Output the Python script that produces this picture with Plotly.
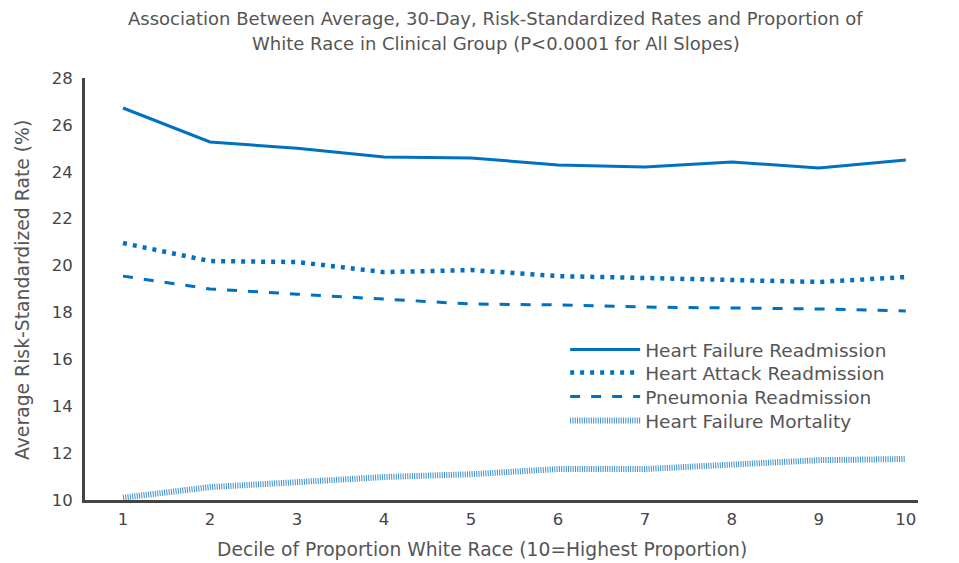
import plotly.graph_objects as go

deciles = [1, 2, 3, 4, 5, 6, 7, 8, 9, 10]
hf_readmission = [26.72, 25.27, 25.0, 24.63, 24.59, 24.29, 24.2, 24.42, 24.16, 24.5]
ha_readmission = [20.96, 20.19, 20.15, 19.72, 19.81, 19.55, 19.47, 19.38, 19.3, 19.51]
pn_readmission = [19.55, 19.0, 18.78, 18.57, 18.36, 18.32, 18.23, 18.19, 18.15, 18.06]
hf_mortality = [10.1, 10.55, 10.76, 10.98, 11.1, 11.32, 11.32, 11.53, 11.7, 11.75]
y_ticks = [10, 12, 14, 16, 18, 20, 22, 24, 26, 28]
series_names = ["Heart Failure Readmission", "Heart Attack Readmission",
                "Pneumonia Readmission", "Heart Failure Mortality"]
title_lines = ["Association Between Average, 30-Day, Risk-Standardized Rates and Proportion of",
               "White Race in Clinical Group (P<0.0001 for All Slopes)"]
x_title = "Decile of Proportion White Race (10=Highest Proportion)"
y_title = "Average Risk-Standardized Rate (%)"

blue = "#0070C0"
font = "DejaVu Sans"
grey = "#555555"

series_values = [hf_readmission, ha_readmission, pn_readmission, hf_mortality]
series_lines = [dict(color=blue, width=3),
                dict(color=blue, width=4.5, dash="4px,6px"),
                dict(color=blue, width=3, dash="10px,11px"),
                dict(color="#3A8FD0", width=6, dash="1px,1.3px")]
legend_ids = ["legend", "legend2", "legend3", "legend4"]
legend_tops = [0.4005, 0.346, 0.289, 0.232]

fig = go.Figure()
for name, vals, ln, lg in zip(series_names, series_values, series_lines, legend_ids):
    fig.add_trace(go.Scatter(x=deciles, y=vals, mode="lines", name=name,
                             line=ln, legend=lg))

for line, shift in zip(title_lines, [60, 35]):
    fig.add_annotation(text=line, xref="paper", yref="paper",
                       x=0.493, y=1.0, yshift=shift, xanchor="center", yanchor="middle",
                       showarrow=False, font=dict(size=18, color=grey, family=font))

fig.add_annotation(text=x_title, xref="paper", yref="paper", x=0.4766, y=0.0,
                   yshift=-49, xanchor="center", yanchor="middle", showarrow=False,
                   font=dict(size=18.7, color=grey, family=font))
fig.add_annotation(text=y_title, xref="paper", yref="paper", x=0.0, y=0.4976,
                   xshift=-63, xanchor="center", yanchor="middle", showarrow=False,
                   textangle=-90, font=dict(size=18.8, color=grey, family=font))

legend_layout = {}
for lg, top in zip(legend_ids, legend_tops):
    legend_layout[lg] = dict(x=0.5764, y=top, xanchor="left", yanchor="top",
                             bgcolor="rgba(0,0,0,0)",
                             font=dict(size=18.5, color=grey, family=font),
                             itemwidth=70)

fig.update_layout(
    width=959, height=563,
    margin=dict(l=77, r=49, t=70, b=71),
    paper_bgcolor="white", plot_bgcolor="white",
    font=dict(family=font, color=grey, size=16),
    xaxis=dict(range=[0.563, 10.14], tickvals=deciles, showgrid=False, zeroline=False,
               showline=True, linecolor="#444444", linewidth=3, ticks="",
               automargin=False, ticklabelstandoff=2,
               tickfont=dict(size=16.5, color="#444444")),
    yaxis=dict(range=[10, 28], tickvals=y_ticks, showgrid=False, zeroline=False,
               showline=True, linecolor="#444444", linewidth=3, ticks="",
               automargin=False, ticklabelstandoff=6,
               tickfont=dict(size=16.5, color="#444444")),
    showlegend=True,
    **legend_layout,
)

fig.write_html("out.html")
